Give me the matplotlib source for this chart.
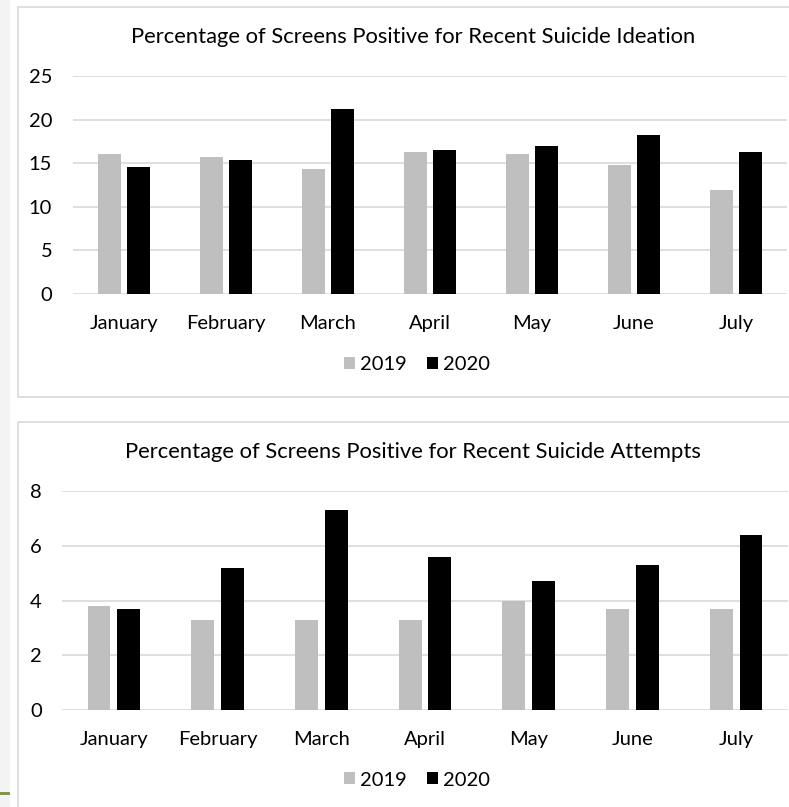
import matplotlib
matplotlib.use('Agg')
import matplotlib.pyplot as plt
import numpy as np
from matplotlib.patches import Rectangle

plt.rcParams['font.family'] = ['Lato', 'DejaVu Sans']

months = ['January', 'February', 'March', 'April', 'May', 'June', 'July']
years = ['2019', '2020']

# percentage of screens positive, recent suicide ideation
ideation_2019 = [16.0, 15.7, 14.3, 16.3, 16.1, 14.8, 11.9]
ideation_2020 = [14.6, 15.4, 21.2, 16.5, 17.0, 18.2, 16.3]

# percentage of screens positive, recent suicide attempts
attempts_2019 = [3.8, 3.3, 3.3, 3.3, 4.0, 3.7, 3.7]
attempts_2020 = [3.7, 5.2, 7.3, 5.6, 4.7, 5.3, 6.4]

W, H = 789, 807
fig = plt.figure(figsize=(W / 100, H / 100), dpi=100)


def px_box(x0, y0, x1, y1):
    # pixel box (top-left origin) -> figure fraction rect
    return [x0 / W, 1 - y1 / H, (x1 - x0) / W, (y1 - y0) / H]


# light strip on the left edge and the small green mark
fig.patches.append(Rectangle((0, 0), 10 / W, 1, transform=fig.transFigure,
                             facecolor='#f3f3f3', edgecolor='none', zorder=-3))
fig.patches.append(Rectangle((0, 1 - 795 / H), 10 / W, 3 / H, transform=fig.transFigure,
                             facecolor='#7f9a3c', edgecolor='none', zorder=-2))

# chart frames
for y0, y1 in [(7, 397), (422, 812)]:
    x0, x1 = 18, 795
    fig.patches.append(Rectangle((x0 / W, 1 - y1 / H), (x1 - x0) / W, (y1 - y0) / H,
                                 transform=fig.transFigure, facecolor='white',
                                 edgecolor='#d9d9d9', linewidth=1.2, zorder=-1))


def draw_chart(box, title, title_y, v19, v20, ymax, step, legend_y, ypad):
    ax = fig.add_axes(px_box(*box))
    ax.patch.set_alpha(0)
    x = np.arange(len(months))
    w = 0.22
    off = 0.143
    ax.bar(x - off, v19, w, color='#bfbfbf', label=years[0], zorder=3)
    ax.bar(x + off, v20, w, color='black', label=years[1], zorder=3)
    ax.set_xlim(-0.5, len(months) - 0.5)
    ax.set_ylim(0, ymax)
    ax.set_yticks(np.arange(0, ymax + 0.1, step))
    ax.yaxis.grid(True, color='#d9d9d9', linewidth=1.2, zorder=0)
    ax.set_axisbelow(True)
    for s in ax.spines.values():
        s.set_visible(False)
    ax.tick_params(axis='both', length=0, labelsize=14.5, colors='black')
    ax.tick_params(axis='y', pad=ypad)
    ax.tick_params(axis='x', pad=15)
    ax.set_xticks(x)
    ax.set_xticklabels(months)
    fig.text(413 / W, 1 - title_y / H, title, ha='center', va='center', fontsize=15.8)
    ax.legend(loc='center', bbox_to_anchor=(417 / W, 1 - legend_y / H),
              bbox_transform=fig.transFigure, ncol=2, frameon=False, fontsize=14.5,
              handlelength=0.55, handleheight=0.55, handletextpad=0.25, columnspacing=1.0)
    return ax


draw_chart((73, 76, 787, 294), 'Percentage of Screens Positive for Recent Suicide Ideation',
           37, ideation_2019, ideation_2020, 25, 5, 365, 15)
draw_chart((62, 491, 788, 710), 'Percentage of Screens Positive for Recent Suicide Attempts',
           452, attempts_2019, attempts_2020, 8, 2, 780, 14.5)

fig.savefig('out.png', dpi=100, facecolor='white')
